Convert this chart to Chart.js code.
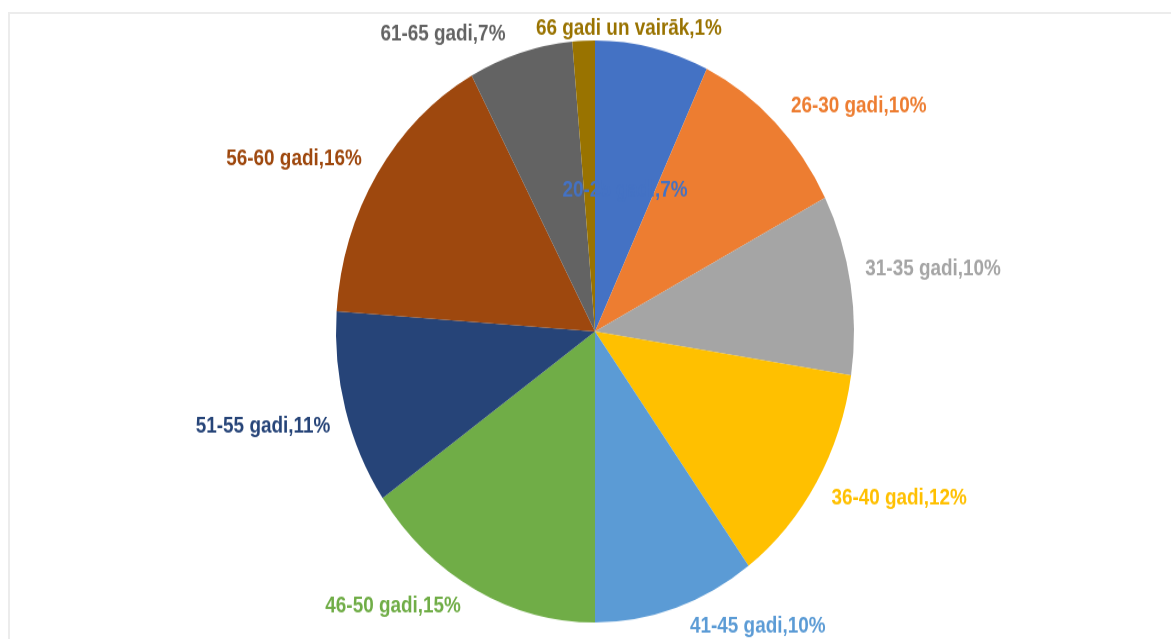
<!DOCTYPE html>
<html>
<head>
<meta charset="utf-8">
<script src="https://cdn.jsdelivr.net/npm/chart.js@4"></script>
<style>
  html, body { margin: 0; padding: 0; background: #fff; overflow: hidden; }
  #frame { position: absolute; left: 8px; top: 12px; width: 1300px; height: 800px;
    border-left: 2px solid #ececec; border-top: 2px solid #ececec; }
  /* the source picture is stretched vertically, so the pie is an ellipse */
  #wrap { position: absolute; left: 0; top: 0; width: 1171px; height: 569px;
    transform: scaleY(1.1236); transform-origin: 0 0; }
</style>
</head>
<body>
<div id="frame"></div>
<div id="wrap"><canvas id="pie" width="1171" height="569"></canvas></div>
<script>
// age groups
var labels = ["20-25 gadi", "26-30 gadi", "31-35 gadi", "36-40 gadi", "41-45 gadi",
	"46-50 gadi", "51-55 gadi", "56-60 gadi", "61-65 gadi", "66 gadi un vairāk"]
// share in percent
var values = [7.1, 10.3, 10.0, 12.5, 10.1, 15.3, 10.8, 16.0, 6.5, 1.4]
// percent shown in label
var shown = ["7%", "10%", "10%", "12%", "10%", "15%", "11%", "16%", "7%", "1%"]

var colors = ['#4472C4', '#ED7D31', '#A5A5A5', '#FFC000', '#5B9BD5',
	'#70AD47', '#264478', '#9E480E', '#636363', '#997300']

// label placement: [radius factor, angle nudge in degrees]
var labelPos = [[0.50, 0.6], [1.28, 8.6], [1.323, 0], [1.307, -5.1], [1.19, -13.7],
	[1.222, 12.1], [1.322, 1.3], [1.305, -5.7], [1.18, -13.1], [1.049, 9.7]]

var labelPlugin = {
	id: 'sliceLabels',
	afterDatasetsDraw: function (chart) {
		var ctx = chart.ctx
		var meta = chart.getDatasetMeta(0)
		meta.data.forEach(function (arc, i) {
			var mid = (arc.startAngle + arc.endAngle) / 2 + labelPos[i][1] * Math.PI / 180
			var r = arc.outerRadius * labelPos[i][0]
			ctx.save()
			ctx.translate(arc.x + Math.cos(mid) * r, arc.y + Math.sin(mid) * r)
			// narrow the glyphs a bit, closer to Calibri
			ctx.scale(0.9, 1)
			ctx.font = 'bold 21px "Liberation Sans", Arial, sans-serif'
			ctx.textAlign = 'center'
			ctx.textBaseline = 'middle'
			ctx.fillStyle = colors[i]
			ctx.fillText(labels[i] + "," + shown[i], 0, 0)
			ctx.restore()
		})
	}
}

var ctx = document.getElementById("pie").getContext('2d')
var myPie = new Chart(ctx, {
	type: 'pie',
	data: {
		labels: labels,
		datasets: [{
			data: values,
			backgroundColor: colors,
			borderWidth: 0
		}]
	},
	options: {
		responsive: false,
		animation: false,
		layout: { padding: { left: 336, right: 317, top: 36, bottom: 15 } },
		plugins: {
			legend: { display: false },
			tooltip: { enabled: false }
		}
	},
	plugins: [labelPlugin]
})
</script>
</body>
</html>
